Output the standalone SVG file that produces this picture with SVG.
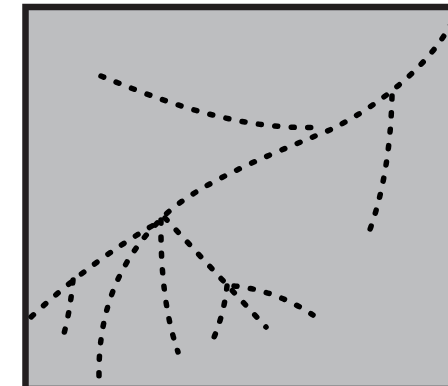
<svg xmlns="http://www.w3.org/2000/svg" width="448" height="386" viewBox="0 0 448 386">
<style>
.frame{fill:#bdbec0;stroke:#231f20;stroke-width:6.5}
.dot{fill:none;stroke:#000;stroke-width:5.5;stroke-linecap:round;stroke-dasharray:3 13.5}
</style>
<rect width="448" height="386" fill="#fff"/>
<rect id="frame" class="frame" x="25.5" y="7" width="440" height="382"/>
<g id="connectors">
<path id="trunk" class="dot" d="M452,22 C430,65 380,105 332,129 C290,147 200,180 163,217 C135,245 98,290 99,376"/>
<path id="top-arc" class="dot" d="M101,76 C160,100 240,132 322,127"/>
<path id="right-drop" class="dot" d="M392,96 Q390,180 366,240"/>
<path id="left-branch" class="dot" d="M152,226 Q90,262 30,318"/>
<path id="left-drop" class="dot" d="M73,280 Q70,315 61,344"/>
<path id="mid-drop" class="dot" d="M161,220 Q160,300 178,352"/>
<path id="diag" class="dot" d="M165,218 L266,327"/>
<path id="right-fork" class="dot" d="M234,286 Q275,290 313,315"/>
<path id="down-fork" class="dot" d="M227,286 Q224,315 212,342"/>
</g>
</svg>
